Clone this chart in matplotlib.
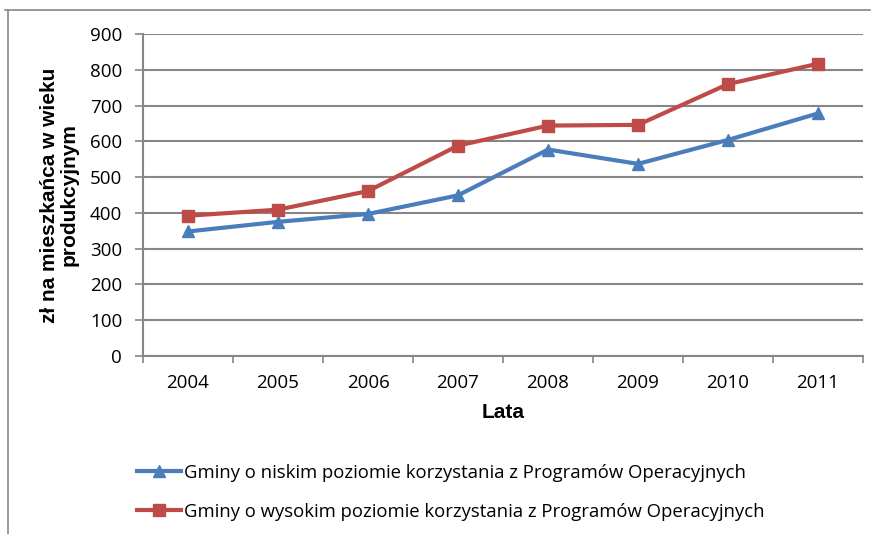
import matplotlib.pyplot as plt
from matplotlib.lines import Line2D

years = ["2004", "2005", "2006", "2007", "2008", "2009", "2010", "2011"]
niski = [348, 375, 397, 449, 577, 537, 604, 678]
wysoki = [392, 409, 461, 588, 644, 646, 760, 817]
yticks = [0, 100, 200, 300, 400, 500, 600, 700, 800, 900]

lab_niski = "Gminy o niskim poziomie korzystania z Programów Operacyjnych"
lab_wysoki = "Gminy o wysokim poziomie korzystania z Programów Operacyjnych"

blue = "#4A7EBB"
red = "#BE4B48"
grid = "#868686"

fig = plt.figure(figsize=(8.76, 5.34), dpi=100)
W, H = 876, 534
ax = fig.add_axes([143 / W, (H - 356) / H, 720 / W, 322 / H])

x = range(len(years))
l1, = ax.plot(x, niski, color=blue, lw=3, marker="^", ms=9, label=lab_niski)
l2, = ax.plot(x, wysoki, color=red, lw=3, marker="s", ms=8, label=lab_wysoki)

ax.set_xlim(-0.5, len(years) - 0.5)
ax.set_ylim(0, 900)
ax.set_yticks(yticks)
ax.set_yticklabels([str(v) for v in yticks], fontsize=13.5, family="Open Sans")
ax.set_xticks(list(x))
ax.set_xticklabels(years, fontsize=13.5, family="Open Sans")
ax.set_xticks([i - 0.5 for i in range(len(years) + 1)], minor=True)
ax.tick_params(axis="x", which="major", length=0, pad=13)
ax.tick_params(axis="x", which="minor", length=5, color=grid, width=1.2)
ax.tick_params(axis="y", length=6, color=grid, width=1.2, pad=9)

ax.grid(axis="y", color=grid, lw=1.5)
ax.set_axisbelow(True)
for s in ["top", "right"]:
    ax.spines[s].set_visible(False)
for s in ["left", "bottom"]:
    ax.spines[s].set_color(grid)
    ax.spines[s].set_linewidth(1.5)

ax.set_xlabel("Lata", fontsize=15, fontweight="bold", family="Liberation Sans", labelpad=8)
ax.set_ylabel("zł na mieszkańca w wieku\nprodukcyjnym", fontsize=15, fontweight="bold",
              family="Liberation Sans", labelpad=8, linespacing=1.05)

fig.legend(handles=[l1, l2], loc="upper left", bbox_to_anchor=(120 / W, 1 - 447 / H),
           frameon=False, prop={"family": "Open Sans", "size": 13.3},
           handlelength=2.4, handletextpad=0.15, labelspacing=1.15)

# outer frame
fig.add_artist(Line2D([5 / W, 870 / W], [1 - 10 / H, 1 - 10 / H], color="#888888", lw=1.2,
                      transform=fig.transFigure))
fig.add_artist(Line2D([8 / W, 8 / W], [0, 1 - 10 / H], color="#888888", lw=1.2,
                      transform=fig.transFigure))

fig.savefig("out.png", dpi=100)
